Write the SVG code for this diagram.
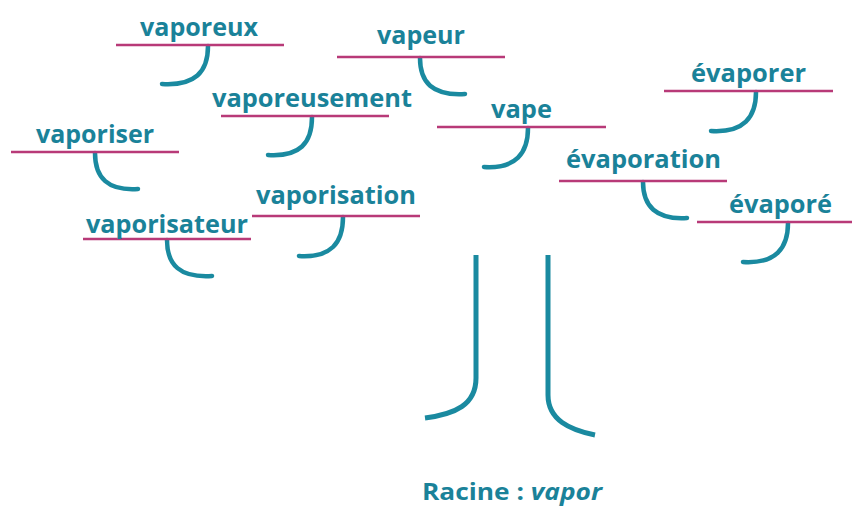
<svg xmlns="http://www.w3.org/2000/svg" width="852" height="506" viewBox="0 0 852 506">
<style>
.w{font-family:"Open Sans","Noto Sans","Liberation Sans",sans-serif;font-weight:700;font-size:25px;fill:#1a8299;text-anchor:middle}
.u{stroke:#b83a78;stroke-width:2.5;fill:none}
.h{stroke:#1a8aa0;stroke-width:4.5;fill:none;stroke-linecap:round}
.t{stroke:#1a8aa0;stroke-width:5;fill:none}
.r{font-family:"Open Sans","Noto Sans","Liberation Sans",sans-serif;font-weight:700;font-size:24px;fill:#1a8299}
</style>
<rect width="852" height="506" fill="#ffffff"/>
<g id="connectors">
<path class="h" d="M208,46 C208,72 195,86 162,84"/>
<path class="h" d="M420,58 C420,82 432,96 465,94"/>
<path class="h" d="M312,117 C312,143 300,157 268,155"/>
<path class="h" d="M95,153 C95,178 108,191 138,189"/>
<path class="h" d="M528,128 C528,153 516,169 484,167"/>
<path class="h" d="M756,92 C756,117 744,133 711,131"/>
<path class="h" d="M643,182 C643,206 656,220 687,218"/>
<path class="h" d="M343,217 C343,243 331,258 299,256"/>
<path class="h" d="M788,223 C788,248 776,264 743,262"/>
<path class="h" d="M167,240 C167,265 180,278 212,276"/>
<path class="t" d="M476,255 V378 C476,405 455,414 425,418"/>
<path class="t" d="M548,255 V395 C548,420 570,430 595,435"/>
</g>
<g id="vaporeux"><line class="u" x1="116" y1="45" x2="284" y2="45"/><text class="w" x="199" y="36" textLength="118" lengthAdjust="spacingAndGlyphs">vaporeux</text></g>
<g id="vapeur"><line class="u" x1="337" y1="57" x2="505" y2="57"/><text class="w" x="421" y="44" textLength="88" lengthAdjust="spacingAndGlyphs">vapeur</text></g>
<g id="vaporeusement"><line class="u" x1="221" y1="116" x2="389" y2="116"/><text class="w" x="312" y="107" textLength="200" lengthAdjust="spacingAndGlyphs">vaporeusement</text></g>
<g id="vaporiser"><line class="u" x1="11" y1="152" x2="179" y2="152"/><text class="w" x="95" y="143" textLength="118" lengthAdjust="spacingAndGlyphs">vaporiser</text></g>
<g id="vape"><line class="u" x1="437" y1="127" x2="606" y2="127"/><text class="w" x="521.5" y="118" textLength="61" lengthAdjust="spacingAndGlyphs">vape</text></g>
<g id="evaporer"><line class="u" x1="664" y1="91" x2="833" y2="91"/><text class="w" x="748.5" y="82" textLength="115" lengthAdjust="spacingAndGlyphs">évaporer</text></g>
<g id="evaporation"><line class="u" x1="559" y1="181" x2="727" y2="181"/><text class="w" x="643.5" y="168" textLength="155" lengthAdjust="spacingAndGlyphs">évaporation</text></g>
<g id="vaporisation"><line class="u" x1="252" y1="216" x2="420" y2="216"/><text class="w" x="336" y="204" textLength="160" lengthAdjust="spacingAndGlyphs">vaporisation</text></g>
<g id="evapore"><line class="u" x1="697" y1="222" x2="852" y2="222"/><text class="w" x="780.5" y="213" textLength="103" lengthAdjust="spacingAndGlyphs">évaporé</text></g>
<g id="vaporisateur"><line class="u" x1="83" y1="239" x2="251" y2="239"/><text class="w" x="167" y="233" textLength="162" lengthAdjust="spacingAndGlyphs">vaporisateur</text></g>
<g id="racine"><text class="r" x="422" y="500" textLength="180" lengthAdjust="spacingAndGlyphs">Racine : <tspan font-style="italic">vapor</tspan></text></g>
</svg>
